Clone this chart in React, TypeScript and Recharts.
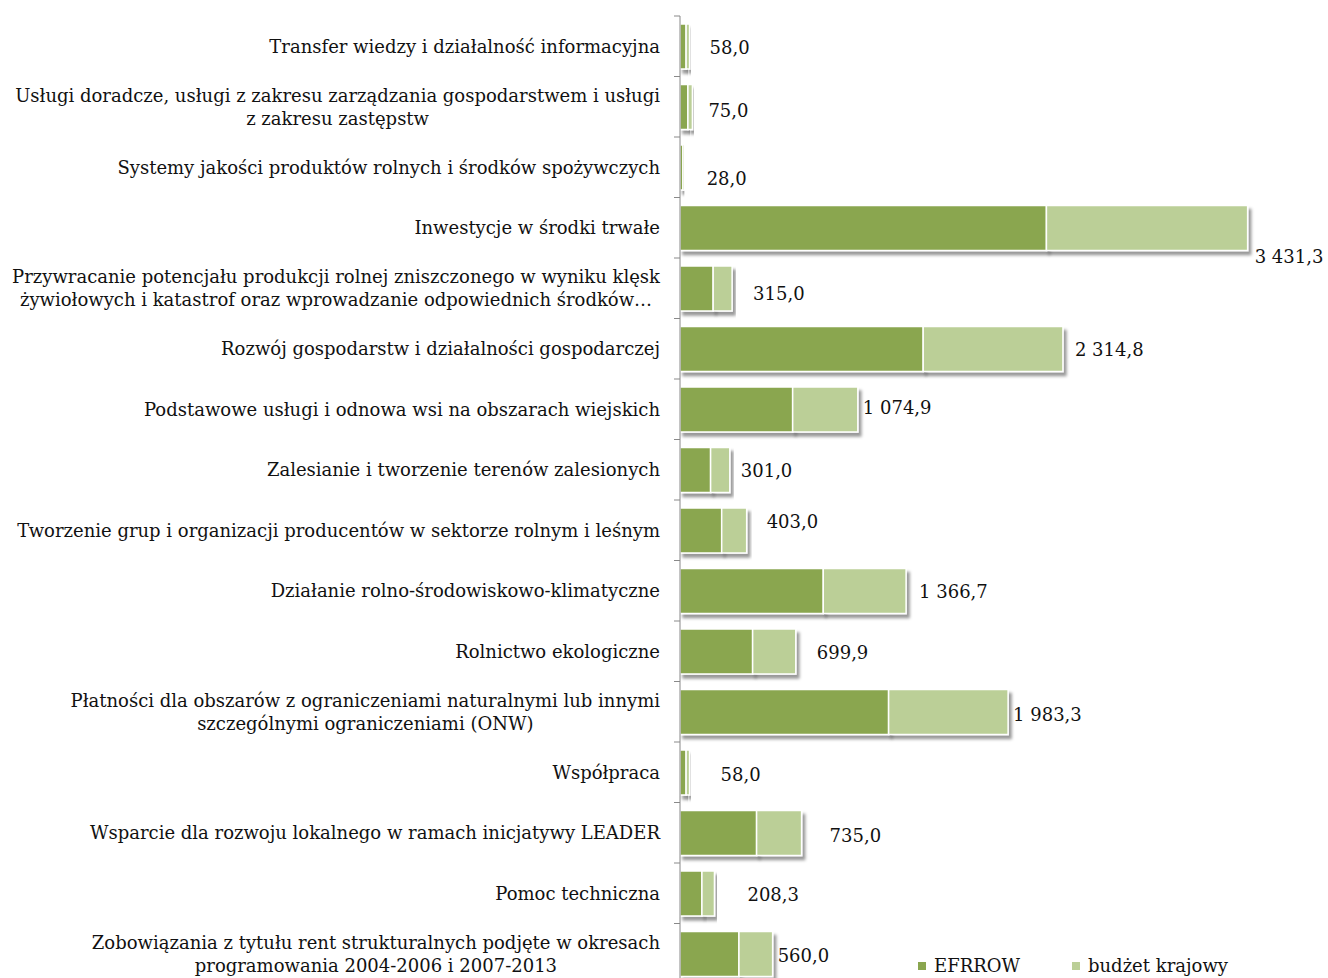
import React from 'react';
import { BarChart, Bar, XAxis, YAxis, LabelList } from 'recharts';

const CATEGORIES: string[] = [
  'Transfer wiedzy i działalność informacyjna',
  'Usługi doradcze, usługi z zakresu zarządzania gospodarstwem i usługi\nz zakresu zastępstw',
  'Systemy jakości produktów rolnych i środków spożywczych',
  'Inwestycje w środki trwałe',
  'Przywracanie potencjału produkcji rolnej zniszczonego w wyniku klęsk\nżywiołowych i katastrof oraz wprowadzanie odpowiednich środków…',
  'Rozwój gospodarstw i działalności gospodarczej',
  'Podstawowe usługi i odnowa wsi na obszarach wiejskich',
  'Zalesianie i tworzenie terenów zalesionych',
  'Tworzenie grup i organizacji producentów w sektorze rolnym i leśnym',
  'Działanie rolno-środowiskowo-klimatyczne',
  'Rolnictwo ekologiczne',
  'Płatności dla obszarów z ograniczeniami naturalnymi lub innymi\nszczególnymi ograniczeniami (ONW)',
  'Współpraca',
  'Wsparcie dla rozwoju lokalnego w ramach inicjatywy LEADER',
  'Pomoc techniczna',
  'Zobowiązania z tytułu rent strukturalnych podjęte w okresach\nprogramowania 2004-2006 i 2007-2013',
];

const TOTALS: number[] = [58.0, 75.0, 28.0, 3431.3, 315.0, 2314.8, 1074.9, 301.0, 403.0, 1366.7, 699.9, 1983.3, 58.0, 735.0, 208.3, 560.0];
const EFRROW: number[] = [36.9, 47.7, 17.8, 2215.0, 200.4, 1470.0, 681.0, 185.0, 252.0, 866.0, 439.0, 1261.0, 36.9, 463.0, 132.5, 356.3];
const BUDZET: number[] = [21.1, 27.3, 10.2, 1216.3, 114.6, 844.8, 393.9, 116.0, 151.0, 500.7, 260.9, 722.3, 21.1, 272.0, 75.8, 203.7];

const SERIES_NAMES = ['EFRROW', 'budżet krajowy'];
const X_DOMAIN: [number, number] = [0, 3500];

// styling
const COLORS = ['#8AA64F', '#BBCF97'];
const FONT = '"DejaVu Serif", serif';
const FS = 18;
const W = 1328;
const H = 984;
const M = { top: 16, right: 69, bottom: 0, left: 0 };
const AXIS_W = 680;
const BAND = (H - M.top - M.bottom) / CATEGORIES.length;
// label nudges (relative to bar end / bar centre)
const LABEL_DX = [20, 16, 22, 7, 21, 12, 5, 11, 20, 13, 21, 5, 31, 28, 33, 5];
const LABEL_DY = [1, 3, 11, 28, 5, 0, -2, 0, -9, 0, 1, 2, 2, 2, 1, 1];

const data = CATEGORIES.map((name, i) => ({
  name,
  efrrow: EFRROW[i],
  budzet: BUDZET[i],
  total: TOTALS[i],
}));

function fmt(v: number): string {
  const [i, d] = v.toFixed(1).split('.');
  return i.replace(/\B(?=(\d{3})+(?!\d))/g, ' ') + ',' + d;
}

let ctx: CanvasRenderingContext2D | null = null;
function measure(t: string): number {
  if (!ctx) ctx = document.createElement('canvas').getContext('2d');
  if (!ctx) return t.length * FS * 0.55;
  ctx.font = `${FS}px "DejaVu Serif"`;
  return ctx.measureText(t).width;
}

const CatTick = (props: any) => {
  const { x, y, payload } = props;
  const lines = String(payload.value).split('\n');
  const maxW = Math.max(...lines.map(measure));
  const right = x - 20;
  const cx = right - maxW / 2;
  const lh = 23;
  const y0 = y - ((lines.length - 1) * lh) / 2;
  return (
    <g>
      <line x1={x - 6} x2={x} y1={y - BAND / 2} y2={y - BAND / 2} stroke="#898989" strokeWidth={1} />
      <text fontFamily={FONT} fontSize={FS} fill="#111">
        {lines.map((l, i) => (
          <tspan key={i} x={cx} y={y0 + i * lh} textAnchor="middle" dominantBaseline="central">
            {l}
          </tspan>
        ))}
      </text>
    </g>
  );
};

const ShadowRect = (props: any) => {
  const { x, y, width, height, fill } = props;
  if (width <= 0) return null;
  return (
    <rect x={x} y={y} width={width} height={height} fill={fill} stroke="#ffffff" strokeWidth={1.5} filter="url(#barShadow)" />
  );
};

const TotalLabel = (props: any) => {
  const { x, y, width, height, index } = props;
  return (
    <text
      x={x + width + LABEL_DX[index]}
      y={y + height / 2 + LABEL_DY[index]}
      fontFamily={FONT}
      fontSize={FS}
      fill="#111"
      dominantBaseline="central"
    >
      {fmt(TOTALS[index])}
    </text>
  );
};

export default function App() {
  return (
    <div style={{ position: 'absolute', left: 0, top: 0, width: 1328, height: 978, overflow: 'hidden', background: '#fff' }}>
      <svg width={0} height={0} style={{ position: 'absolute' }}>
        <defs>
          <filter id="barShadow" x="-10%" y="-20%" width="130%" height="160%">
            <feDropShadow dx={3} dy={4} stdDeviation={1.6} floodColor="#000" floodOpacity={0.4} />
          </filter>
        </defs>
      </svg>
      <BarChart width={W} height={H} data={data} layout="vertical" margin={M} barSize={45}>
        <XAxis type="number" domain={X_DOMAIN} hide />
        <YAxis
          type="category"
          dataKey="name"
          width={AXIS_W}
          tickLine={false}
          tickSize={0}
          tickMargin={0}
          axisLine={{ stroke: '#898989', strokeWidth: 1 }}
          tick={<CatTick />}
          interval={0}
        />
        <Bar dataKey="efrrow" name={SERIES_NAMES[0]} stackId="a" fill={COLORS[0]} shape={<ShadowRect />} isAnimationActive={false} />
        <Bar dataKey="budzet" name={SERIES_NAMES[1]} stackId="a" fill={COLORS[1]} shape={<ShadowRect />} isAnimationActive={false}>
          <LabelList dataKey="total" content={<TotalLabel />} />
        </Bar>
      </BarChart>
      <div style={{ position: 'absolute', left: 918, top: 955, display: 'flex', alignItems: 'center', fontFamily: FONT, fontSize: FS, color: '#111' }}>
        {SERIES_NAMES.map((n, i) => (
          <div key={n} style={{ display: 'flex', alignItems: 'center', marginRight: i === 0 ? 52 : 0 }}>
            <span style={{ display: 'inline-block', width: 8, height: 8, background: COLORS[i], marginRight: 8 }} />
            <span>{n}</span>
          </div>
        ))}
      </div>
    </div>
  );
}
